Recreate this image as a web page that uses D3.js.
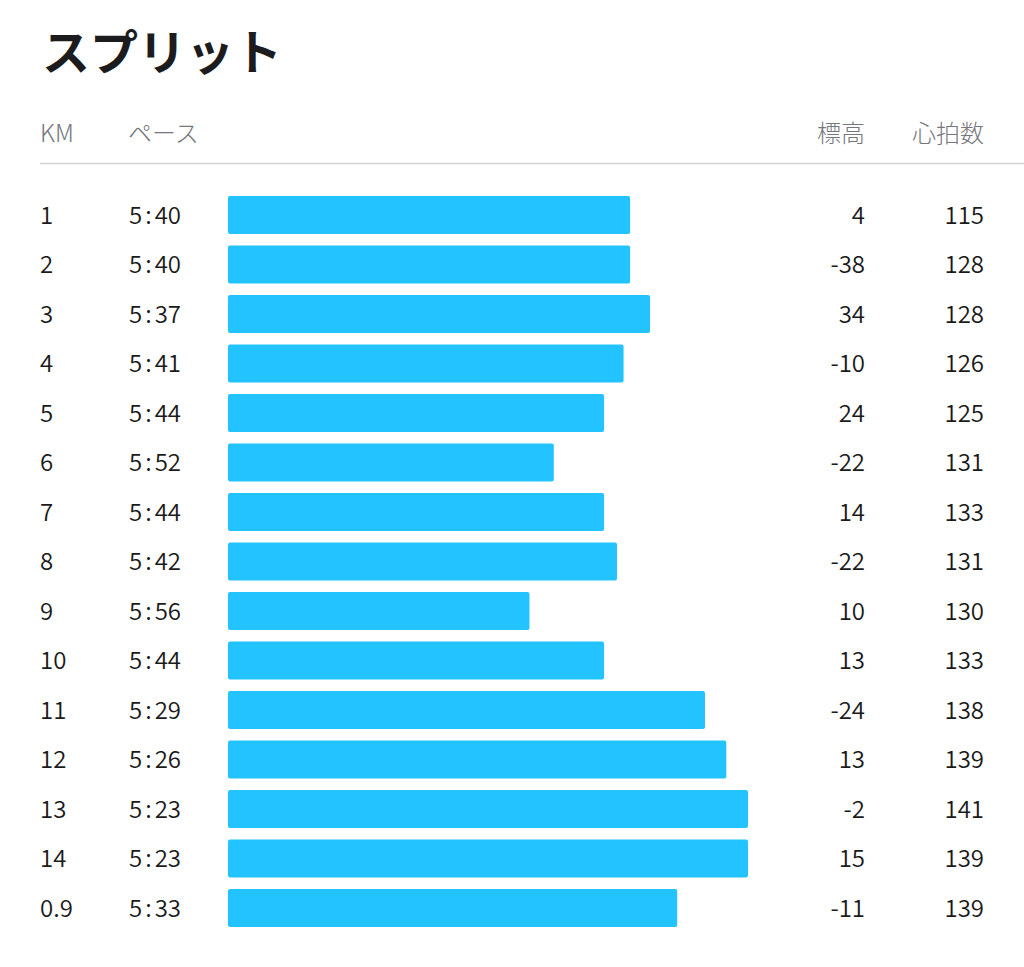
<!DOCTYPE html>
<html><head><meta charset="utf-8">
<script src="https://cdn.jsdelivr.net/npm/d3@7"></script>
<style>
html,body{margin:0;padding:0;background:#fff;}
svg{display:block;font-family:"Noto Sans CJK JP","Noto Sans",sans-serif;}
</style></head>
<body>
<svg id="chart" width="1024" height="967"></svg>
<script>
const title = "スプリット";
const headers = ["KM", "ペース", "標高", "心拍数"];
const kms = ["1","2","3","4","5","6","7","8","9","10","11","12","13","14","0.9"];
const paces = ["5:40","5:40","5:37","5:41","5:44","5:52","5:44","5:42","5:56","5:44","5:29","5:26","5:23","5:23","5:33"];
const elevations = [4,-38,34,-10,24,-22,14,-22,10,13,-24,13,-2,15,-11];
const heartRates = [115,128,128,126,125,131,133,131,130,133,138,139,141,139,139];

const toSec = s => { const [m, x] = s.split(":").map(Number); return m*60 + x; };
// speed in m/s derived from pace per km
const rows = kms.map((k,i)=>({km:k, pace:paces[i], speed:1000/toSec(paces[i]), elev:elevations[i], hr:heartRates[i]}));

const svg = d3.select("#chart");
const barX0 = 228;
const x = d3.scaleLinear().domain([2.413, 3.096]).range([barX0, barX0 + 520]);
const y = d3.scaleBand().domain(d3.range(rows.length)).range([190.25, 190.25 + 49.5*rows.length]).paddingInner(0.232).paddingOuter(0.116);

svg.append("text").attr("x", 42).attr("y", 70).attr("font-size", 48).attr("font-weight", 700).attr("fill", "#1c1c1e").text(title);

const hdr = svg.append("g").attr("fill", "#76767c").attr("font-size", 24).attr("font-weight", 300);
hdr.append("text").attr("x", 40).attr("y", 142).text(headers[0]);
hdr.append("text").attr("x", 128).attr("y", 142).text(headers[1]);
hdr.append("text").attr("x", 865).attr("y", 142).attr("text-anchor","end").text(headers[2]);
hdr.append("text").attr("x", 984).attr("y", 142).attr("text-anchor","end").text(headers[3]);

svg.append("line").attr("x1", 40).attr("x2", 1024).attr("y1", 163.5).attr("y2", 163.5).attr("stroke", "#d4d4d8").attr("stroke-width", 1.3);

const g = svg.append("g").selectAll("g").data(rows).join("g");
g.append("rect")
  .attr("x", barX0)
  .attr("y", (d,i)=>y(i))
  .attr("width", d=>x(d.speed)-barX0)
  .attr("height", y.bandwidth())
  .attr("rx", 2)
  .attr("fill", "#22c3fe");
const ty = (d,i)=> y(i) + y.bandwidth()/2 + 8.5;
const T = sel => sel.attr("font-size", 24).attr("font-weight", 350).attr("fill", "#1a1a1a");
g.append("text").call(T).attr("x", 40).attr("y", ty).text(d=>d.km);
const pt = g.append("text").call(T).attr("x", 129).attr("y", ty);
pt.append("tspan").text(d=>d.pace.split(":")[0]);
pt.append("tspan").attr("dx", 3).text(":");
pt.append("tspan").attr("dx", 3).text(d=>d.pace.split(":")[1]);
g.append("text").call(T).attr("x", 865).attr("y", ty).attr("text-anchor","end").text(d=>d.elev);
g.append("text").call(T).attr("x", 984).attr("y", ty).attr("text-anchor","end").text(d=>d.hr);
</script>
</body></html>
